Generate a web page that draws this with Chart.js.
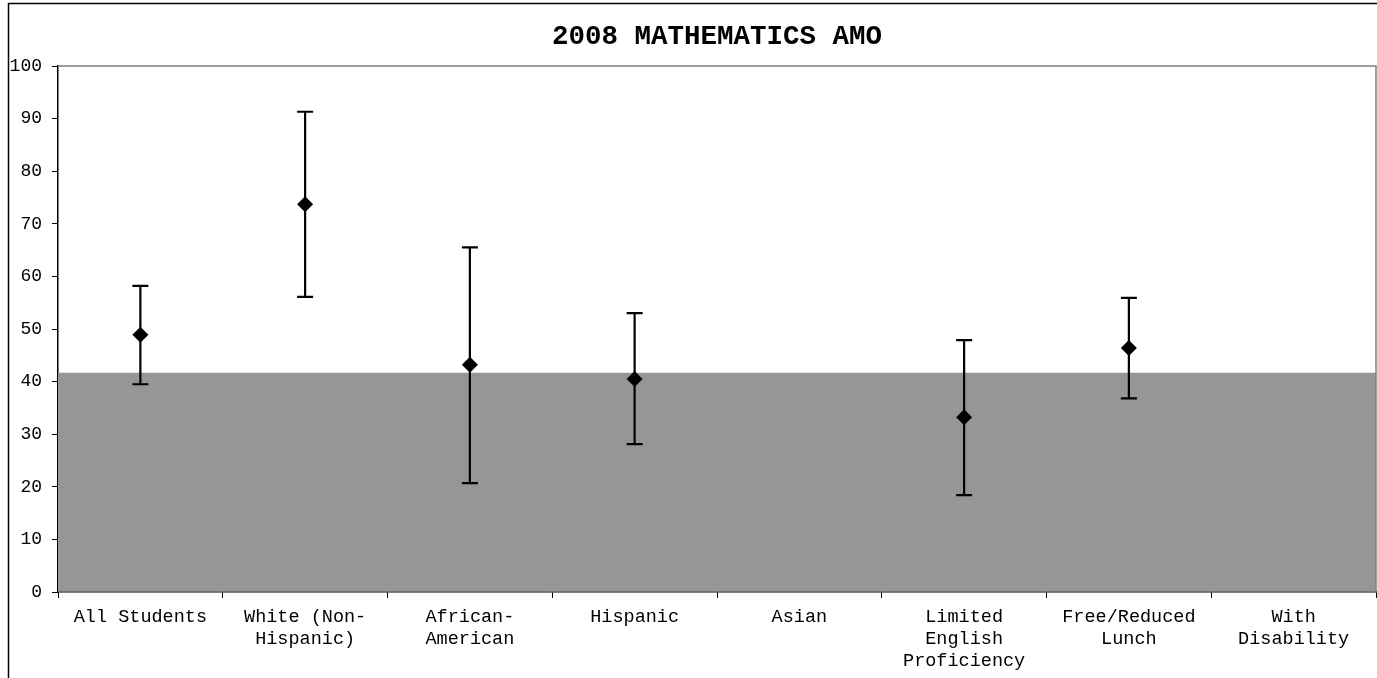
<!DOCTYPE html>
<html>
<head>
<meta charset="utf-8">
<script src="https://cdn.jsdelivr.net/npm/chart.js@4.4.1/dist/chart.umd.min.js"></script>
<style>
  html, body { margin: 0; padding: 0; background: #fff; }
  #wrap { width: 1377px; height: 678px; position: relative; }
</style>
</head>
<body>
<div id="wrap"><canvas id="c" width="1377" height="678"></canvas></div>
<script>
// ---- data ----
const categories = [
  "All Students",
  ["White (Non-", "Hispanic)"],
  ["African-", "American"],
  "Hispanic",
  "Asian",
  ["Limited", "English", "Proficiency"],
  ["Free/Reduced", "Lunch"],
  ["With", "Disability"]
];
const scores = [48.9, 73.7, 43.2, 40.5, null, 33.2, 46.4, null];
const upperBounds = [58.2, 91.3, 65.5, 53.0, null, 47.9, 55.9, null];
const lowerBounds = [39.5, 56.1, 20.7, 28.1, null, 18.4, 36.8, null];
const amoTarget = 41.6;
const amoValues = categories.map(() => amoTarget);
const yTicks = [0, 10, 20, 30, 40, 50, 60, 70, 80, 90, 100];

const FONT = "'Courier New', 'Liberation Mono', monospace";

const errorBars = {
  id: 'errorBars',
  afterDatasetsDraw(chart) {
    const ctx = chart.ctx;
    const x = chart.scales.x, y = chart.scales.y;
    ctx.save();
    ctx.strokeStyle = '#000';
    ctx.lineWidth = 2.2;
    for (let i = 0; i < categories.length; i++) {
      if (upperBounds[i] == null) continue;
      const px = x.getPixelForValue(i);
      const yu = y.getPixelForValue(upperBounds[i]);
      const yl = y.getPixelForValue(lowerBounds[i]);
      ctx.beginPath();
      ctx.moveTo(px, yu); ctx.lineTo(px, yl);
      ctx.moveTo(px - 8, yu); ctx.lineTo(px + 8, yu);
      ctx.moveTo(px - 8, yl); ctx.lineTo(px + 8, yl);
      ctx.stroke();
    }
    ctx.restore();
  }
};

const frame = {
  id: 'frame',
  afterLayout(chart) {
    if (chart.titleBlock) {
      chart.titleBlock.left = chart.chartArea.left;
      chart.titleBlock.right = chart.chartArea.right;
    }
  },
  afterDraw(chart) {
    const ctx = chart.ctx;
    const a = chart.chartArea;
    ctx.save();
    ctx.strokeStyle = '#808080';
    ctx.lineWidth = 1.5;
    ctx.beginPath();
    ctx.moveTo(a.left, a.top);
    ctx.lineTo(a.right, a.top);
    ctx.lineTo(a.right, a.bottom);
    ctx.stroke();
    ctx.strokeStyle = '#000';
    ctx.lineWidth = 1.5;
    ctx.beginPath();
    ctx.moveTo(8.5, chart.height);
    ctx.lineTo(8.5, 3.5);
    ctx.lineTo(chart.width, 3.5);
    ctx.stroke();
    ctx.restore();
  }
};

new Chart(document.getElementById('c'), {
  data: {
    labels: categories,
    datasets: [
      {
        type: 'line',
        label: 'Score',
        data: scores,
        showLine: false,
        pointStyle: 'rectRot',
        pointRadius: 8,
        pointBackgroundColor: '#000',
        pointBorderColor: '#000',
        pointBorderWidth: 0,
        order: 0
      },
      {
        type: 'bar',
        label: 'AMO',
        data: amoValues,
        backgroundColor: '#969696',
        borderWidth: 0,
        barPercentage: 1,
        categoryPercentage: 1,
        order: 1
      }
    ]
  },
  plugins: [errorBars, frame],
  options: {
    responsive: false,
    animation: false,
    devicePixelRatio: 1,
    layout: { autoPadding: false, padding: { left: 0, right: 1, top: 0, bottom: 0 } },
    plugins: {
      legend: { display: false },
      tooltip: { enabled: false },
      title: {
        display: true,
        text: '2008 MATHEMATICS AMO',
        color: '#000',
        font: { family: FONT, size: 27.5, weight: 'bold', lineHeight: 1.2 },
        padding: { top: 21, bottom: 12 }
      }
    },
    scales: {
      x: {
        type: 'category',
        offset: true,
        grid: { display: true, drawOnChartArea: false, offset: true, color: '#000', tickLength: 6, tickWidth: 1 },
        border: { display: true, color: '#000', width: 1.5 },
        ticks: {
          color: '#000',
          padding: 8,
          maxRotation: 0,
          autoSkip: false,
          font: { family: FONT, size: 18.5, lineHeight: 1.19 }
        },
        afterFit(scale) { scale.height = 86; scale.paddingLeft = 0; scale.paddingRight = 0; }
      },
      y: {
        min: 0,
        max: 100,
        afterBuildTicks(scale) { scale.ticks = yTicks.map(v => ({ value: v })); },
        grid: { display: true, drawOnChartArea: false, color: '#000', tickLength: 6, tickWidth: 1 },
        border: { display: true, color: '#000', width: 1.5 },
        ticks: {
          color: '#000',
          padding: 10,
          font: { family: FONT, size: 18 }
        },
        afterFit(scale) { scale.width = 58; scale.paddingTop = 0; scale.paddingBottom = 0; }
      }
    }
  }
});
</script>
</body>
</html>
